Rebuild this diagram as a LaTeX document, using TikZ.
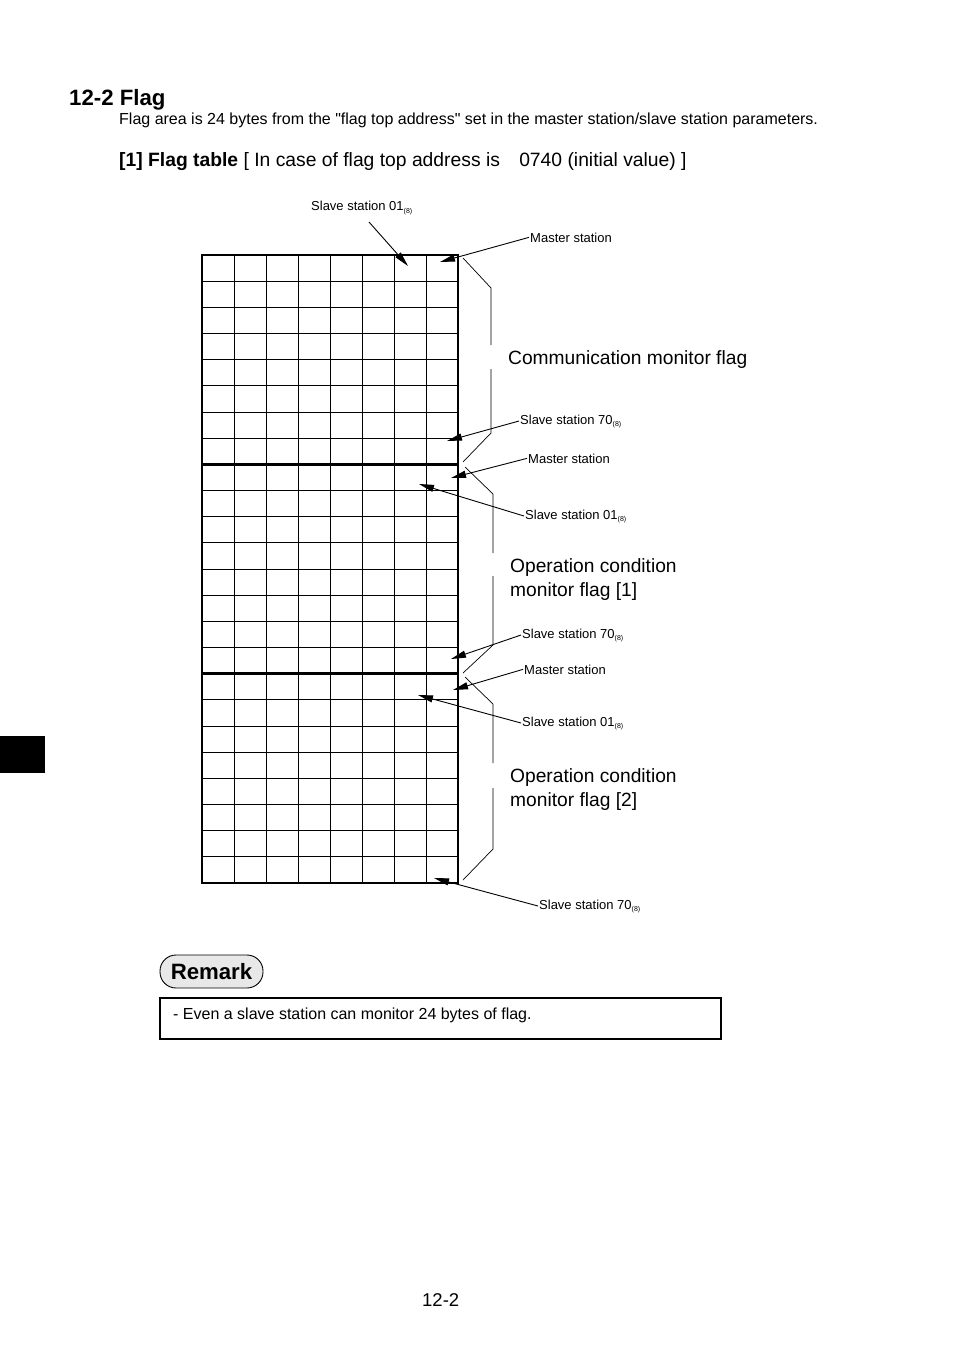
\documentclass[tikz,border=0pt]{standalone}
\usepackage{fontspec}
\setmainfont{Liberation Sans}[Ligatures=TeXOff]
\usetikzlibrary{arrows.meta}

\newcommand{\octal}{\raisebox{-2pt}{\fontsize{7}{7}\selectfont(8)}}
\newcommand{\fsz}[1]{\fontsize{#1}{#1}\selectfont}

\begin{document}
\begin{tikzpicture}[x=1pt,y=-1pt,
  every node/.style={inner sep=1pt},
  txt/.style={anchor=base west},
  small/.style={txt, font=\fsz{13}},
  cell/.style={line width=0.9pt},
  frame/.style={line width=2.6pt},
  brace/.style={line width=0.7pt},
  pointer/.style={line width=0.9pt, -{Triangle[length=15pt,width=7pt]}}]
\useasboundingbox (0,0) rectangle (954,1351);

% heading
\node [txt, font=\bfseries\fsz{22.2}] (title) at (68,106) {12-2 Flag};
\node [txt, font=\fsz{16}] (intro) at (118,125)
  {Flag area is 24 bytes from the "flag top address" set in the master station/slave station parameters.};
\node [txt, font=\fsz{19.3}] (sub) at (118,167)
  {\textbf{[1] Flag table} [ In case of flag top address is\quad 0740 (initial value) ]};

% flag table
\foreach \c in {1,...,7}
  \draw [cell] (202+\c*32,255) -- (202+\c*32,883);
\foreach \r in {1,...,23}
  \draw [cell] (202,255+\r*26.1667) -- (458,255+\r*26.1667);
\draw [frame] (202,255) rectangle (458,883);
\draw [frame] (202,464.3) -- (458,464.3);
\draw [frame] (202,673.7) -- (458,673.7);

% arrow tips
\coordinate (t1) at (408,266);
\coordinate (t2) at (440,262);
\coordinate (t3) at (447,441);
\coordinate (t4) at (451,478);
\coordinate (t5) at (419,484);
\coordinate (t6) at (451,659);
\coordinate (t7) at (453,690);
\coordinate (t8) at (418,695);
\coordinate (t9) at (434,878);
\coordinate (s1) at (369,222);

% labels
\node [small] (slv1) at (310,211) {Slave station 01\octal};
\node [small] (mst1) at (529,242) {Master station};
\node [small] (slv2) at (519,424) {Slave station 70\octal};
\node [small] (mst2) at (527,463) {Master station};
\node [small] (slv3) at (524,519) {Slave station 01\octal};
\node [small] (slv4) at (521,638) {Slave station 70\octal};
\node [small] (mst3) at (523,674) {Master station};
\node [small] (slv5) at (521,726) {Slave station 01\octal};
\node [small] (slv6) at (538,909) {Slave station 70\octal};

\draw [pointer] (s1) -- (t1);
\draw [pointer] (mst1.west) -- (t2);
\draw [pointer] (slv2.west) -- (t3);
\draw [pointer] (mst2.west) -- (t4);
\draw [pointer] (slv3.west) -- (t5);
\draw [pointer] (slv4.west) -- (t6);
\draw [pointer] (mst3.west) -- (t7);
\draw [pointer] (slv5.west) -- (t8);
\draw [pointer] (slv6.west) -- (t9);

% braces
\draw [brace] (463,258) -- (491,288) -- (491,345);
\draw [brace] (491,369) -- (491,433) -- (463,462);
\draw [brace] (465,467) -- (493,494) -- (493,553);
\draw [brace] (493,576) -- (493,645) -- (463,673);
\draw [brace] (465,677) -- (493,704) -- (493,763);
\draw [brace] (493,788) -- (493,849) -- (463,880);

\node [txt, font=\fsz{19.2}] (comm) at (507,364) {Communication monitor flag};
\node [txt, font=\fsz{19.2}, align=left, anchor=north west] (oper1) at (509,557)
  {Operation condition\\[5pt]monitor flag [1]};
\node [txt, font=\fsz{19.2}, align=left, anchor=north west] (oper2) at (509,767)
  {Operation condition\\[5pt]monitor flag [2]};

% chapter tab
\fill (0,736) rectangle (45,773);

% remark
\node [draw, fill=black!9, line width=0.9pt, rounded corners=16pt,
  minimum width=103pt, minimum height=33pt, font=\bfseries\fsz{22.2}] (remark) at (211.5,971.5) {Remark};
\draw [line width=1.8pt] (160,998) rectangle (721,1039);
\node [txt, font=\fsz{16}] (note) at (172,1019) {- Even a slave station can monitor 24 bytes of flag.};

% page number
\node [txt, font=\fsz{18.5}] (page) at (421,1306) {12-2};
\end{tikzpicture}
\end{document}
